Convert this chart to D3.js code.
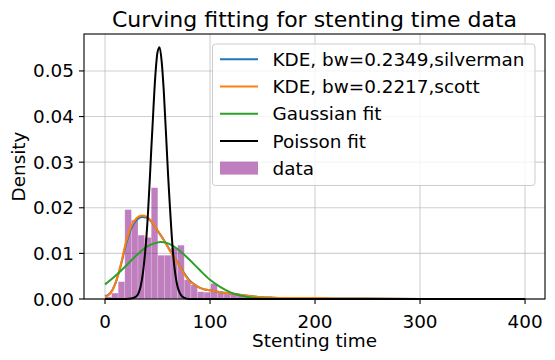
<!DOCTYPE html>
<html>
<head>
<meta charset="utf-8">
<script src="https://cdn.jsdelivr.net/npm/d3@7"></script>
<style>
body { margin: 0; background: #fff; }
text { font-family: "DejaVu Sans", sans-serif; fill: #000; }
</style>
</head>
<body>
<div id="plot"></div>
<script>
// histogram (density)
var binStart = 0;
var binWidth = 6.29;
var binDensity = [0.0005, 0.0013, 0.0038, 0.0196, 0.0173, 0.0140, 0.0135, 0.0244,
  0.0096, 0.0096, 0.0112, 0.0118, 0.0042, 0.0031, 0.0016, 0.0015, 0.0034, 0.0016,
  0.0013, 0.0011, 0.0010, 0.0009, 0.0007, 0.0005, 0.0004, 0.0004, 0.0003, 0.0002,
  0.0002, 0.0002, 0, 0, 0, 0.0002];

// curves, sampled by eye
var kdeX = [0, 5, 10, 15, 20, 25, 30, 35, 40, 45, 50, 55, 60, 65, 70, 75, 80, 85, 90, 95,
  100, 110, 120, 130, 140, 150, 160, 180, 200, 220, 250, 300, 350, 400];
var silvermanY = [0.0006, 0.0013, 0.0035, 0.0073, 0.0120, 0.0155, 0.0173, 0.0180, 0.0178,
  0.0167, 0.0150, 0.0133, 0.0114, 0.0095, 0.0077, 0.0058, 0.0042, 0.0032, 0.0025, 0.0021,
  0.0019, 0.0015, 0.0012, 0.0009, 0.0006, 0.0004, 0.0003, 0.0002, 0.0002, 0.0001, 0.0001, 0, 0, 0];
var scottY = [0.0005, 0.0012, 0.0035, 0.0075, 0.0125, 0.0160, 0.0177, 0.0183, 0.0180,
  0.0168, 0.0150, 0.0133, 0.0113, 0.0094, 0.0076, 0.0057, 0.0040, 0.0032, 0.0025, 0.0021,
  0.0019, 0.0015, 0.0012, 0.0009, 0.0006, 0.0004, 0.0003, 0.0002, 0.0002, 0.0001, 0.0001, 0, 0, 0];

var gaussX = [0, 10, 20, 30, 40, 50, 53, 60, 70, 80, 90, 100, 110, 120, 130, 140, 150, 170, 200, 400];
var gaussY = [0.0032, 0.0051, 0.0073, 0.0096, 0.0115, 0.0124, 0.0125, 0.0122, 0.0108, 0.0087,
  0.0064, 0.0042, 0.0026, 0.0014, 0.0007, 0.0003, 0.0001, 0, 0, 0];

var poissonX = [0, 20, 25, 30, 35, 40, 45, 48, 50, 52, 54, 56, 60, 65, 70, 75, 80, 90, 400];
var poissonY = [0, 0, 0.0001, 0.0006, 0.0040, 0.0154, 0.0368, 0.0492, 0.0541, 0.0552, 0.0520,
  0.0455, 0.0275, 0.0095, 0.0020, 0.0003, 0, 0, 0];

var xTicks = [0, 100, 200, 300, 400];
var yTicks = [0, 0.01, 0.02, 0.03, 0.04, 0.05];

var legendLabels = ["KDE, bw=0.2349,silverman", "KDE, bw=0.2217,scott", "Gaussian fit", "Poisson fit", "data"];
var lineColors = ["#1f77b4", "#ff7f0e", "#2ca02c", "#000000"];

var svg = d3.select("div#plot")
  .append("svg")
  .attr("width", 555)
  .attr("height", 360);

var plot = {left: 84, right: 545, top: 34, bottom: 299};

var xScale = d3.scaleLinear().domain([-20, 419]).range([plot.left, plot.right]);
var yScale = d3.scaleLinear().domain([0, 0.0581]).range([plot.bottom, plot.top]);

// grid
svg.append("g").selectAll("line")
  .data(xTicks).enter().append("line")
  .attr("x1", d => xScale(d)).attr("x2", d => xScale(d))
  .attr("y1", plot.top).attr("y2", plot.bottom)
  .attr("stroke", "#b0b0b0").attr("stroke-opacity", 0.6).attr("stroke-width", 1.1);
svg.append("g").selectAll("line")
  .data(yTicks).enter().append("line")
  .attr("x1", plot.left).attr("x2", plot.right)
  .attr("y1", d => yScale(d)).attr("y2", d => yScale(d))
  .attr("stroke", "#b0b0b0").attr("stroke-opacity", 0.6).attr("stroke-width", 1.1);

// bars
svg.append("g").selectAll("rect")
  .data(binDensity).enter().append("rect")
  .attr("x", (d, i) => xScale(binStart + i * binWidth))
  .attr("width", xScale(binWidth) - xScale(0))
  .attr("y", d => yScale(d))
  .attr("height", d => yScale(0) - yScale(d))
  .attr("fill", "purple").attr("fill-opacity", 0.5)
  .attr("stroke", "#fff").attr("stroke-opacity", 0.35).attr("stroke-width", 0.6);

// curves
var line = d3.line()
  .x(d => xScale(d[0]))
  .y(d => yScale(d[1]))
  .curve(d3.curveMonotoneX);

var series = [
  d3.zip(kdeX, silvermanY),
  d3.zip(kdeX, scottY),
  d3.zip(gaussX, gaussY),
  d3.zip(poissonX, poissonY)
];
series.forEach(function(s, i) {
  svg.append("path")
    .datum(s)
    .attr("fill", "none")
    .attr("stroke", lineColors[i])
    .attr("stroke-width", 2)
    .attr("stroke-linejoin", "round")
    .attr("d", line);
});

// axes frame
svg.append("rect")
  .attr("x", plot.left).attr("y", plot.top)
  .attr("width", plot.right - plot.left).attr("height", plot.bottom - plot.top)
  .attr("fill", "none").attr("stroke", "#000").attr("stroke-width", 1.1);

// ticks
svg.append("g").selectAll("line")
  .data(xTicks).enter().append("line")
  .attr("x1", d => xScale(d)).attr("x2", d => xScale(d))
  .attr("y1", plot.bottom).attr("y2", plot.bottom + 5)
  .attr("stroke", "#000").attr("stroke-width", 1.1);
svg.append("g").selectAll("text")
  .data(xTicks).enter().append("text")
  .attr("x", d => xScale(d)).attr("y", 328)
  .attr("text-anchor", "middle")
  .style("font-size", "18.4px")
  .text(d => d);

svg.append("g").selectAll("line")
  .data(yTicks).enter().append("line")
  .attr("x1", plot.left - 5).attr("x2", plot.left)
  .attr("y1", d => yScale(d)).attr("y2", d => yScale(d))
  .attr("stroke", "#000").attr("stroke-width", 1.1);
svg.append("g").selectAll("text")
  .data(yTicks).enter().append("text")
  .attr("x", 74).attr("y", d => yScale(d) + 6.5)
  .attr("text-anchor", "end")
  .style("font-size", "18.4px")
  .text(d => d3.format(".2f")(d));

// title and axis labels
svg.append("text")
  .attr("x", (plot.left + plot.right) / 2).attr("y", 27)
  .attr("text-anchor", "middle")
  .style("font-size", "22px")
  .text("Curving fitting for stenting time data");

svg.append("text")
  .attr("x", (plot.left + plot.right) / 2).attr("y", 347)
  .attr("text-anchor", "middle")
  .style("font-size", "18.4px")
  .text("Stenting time");

svg.append("text")
  .attr("transform", "translate(25," + ((plot.top + plot.bottom) / 2) + ") rotate(-90)")
  .attr("text-anchor", "middle")
  .style("font-size", "18.4px")
  .text("Density");

// legend
var lg = svg.append("g");
lg.append("rect")
  .attr("x", 212.5).attr("y", 44)
  .attr("width", 322.5).attr("height", 141.5)
  .attr("rx", 3)
  .attr("fill", "#fff").attr("fill-opacity", 0.8)
  .attr("stroke", "#cccccc").attr("stroke-width", 1);

legendLabels.forEach(function(lab, i) {
  var yy = 59.3 + i * 27.2;
  if (i < 4) {
    lg.append("line")
      .attr("x1", 220).attr("x2", 258)
      .attr("y1", yy).attr("y2", yy)
      .attr("stroke", lineColors[i]).attr("stroke-width", 2);
  } else {
    lg.append("rect")
      .attr("x", 220).attr("y", yy - 6.5)
      .attr("width", 38).attr("height", 13)
      .attr("fill", "purple").attr("fill-opacity", 0.5);
  }
  lg.append("text")
    .attr("x", 272.5).attr("y", yy + 6.7)
    .style("font-size", "18.4px")
    .text(lab);
});
</script>
</body>
</html>
